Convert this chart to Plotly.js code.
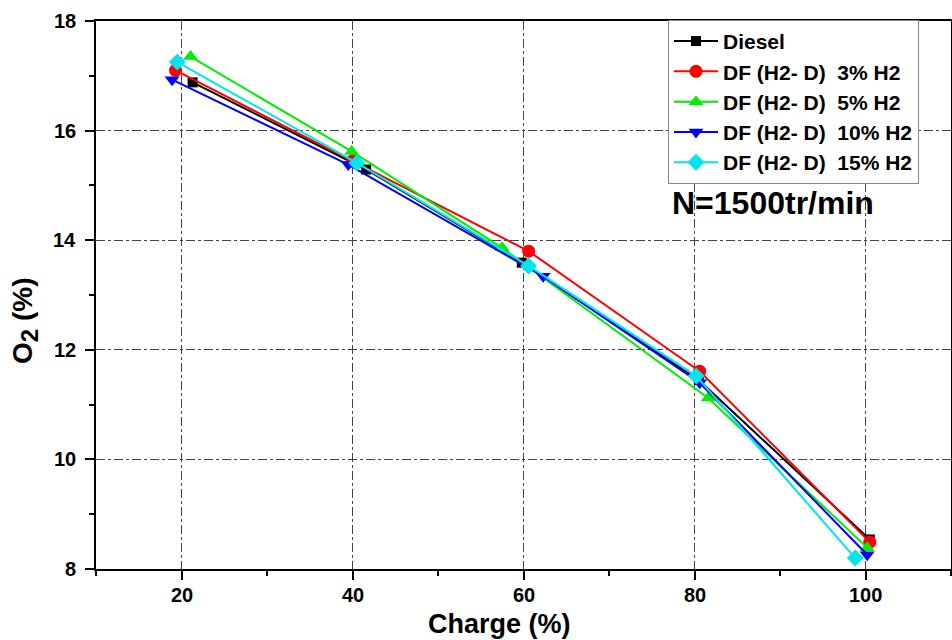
<!DOCTYPE html>
<html><head><meta charset="utf-8">
<script src="https://cdn.plot.ly/plotly-3.0.1.min.js"></script>
<style>html,body{margin:0;padding:0;background:#fff}#chart{width:952px;height:640px}</style>
</head><body><div id="chart"></div>
<script>
const seriesNames = ["Diesel", "DF (H2- D)\u00a0\u00a03% H2", "DF (H2- D)\u00a0\u00a05% H2", "DF (H2- D)\u00a0\u00a010% H2", "DF (H2- D)\u00a0\u00a015% H2"];
const dieselX = [21.3, 41.6, 59.8, 80.5, 100.5];
const dieselY = [16.88, 15.29, 13.59, 11.45, 8.54];
const h3X = [19.3, 40.0, 60.6, 80.6, 100.5];
const h3Y = [17.1, 15.45, 13.8, 11.61, 8.49];
const h5X = [21.05, 39.9, 57.5, 81.6, 100.2];
const h5Y = [17.35, 15.62, 13.86, 11.12, 8.39];
const h10X = [18.9, 39.5, 62.3, 80.6, 100.2];
const h10Y = [16.93, 15.38, 13.34, 11.4, 8.26];
const h15X = [19.5, 40.5, 60.6, 80.2, 98.8];
const h15Y = [17.25, 15.41, 13.53, 11.52, 8.2];
const xTicks = [20, 40, 60, 80, 100];
const yTicks = [8, 10, 12, 14, 16, 18];
const colors = ["#000000", "#ff0000", "#00ee00", "#0000ff", "#00e5ee"];
const symbols = ["square", "circle", "triangle-up", "triangle-down", "diamond"];
const xs = [dieselX, h3X, h5X, h10X, h15X];
const ys = [dieselY, h3Y, h5Y, h10Y, h15Y];

const FONT = 'Liberation Sans, Arial, sans-serif';

const traces = seriesNames.map((n, i) => ({
  x: xs[i], y: ys[i], name: '<b>' + n + '</b>', type: 'scatter', mode: 'lines+markers',
  line: {color: colors[i], width: 2},
  marker: {color: colors[i], symbol: symbols[i], size: i === 0 ? 10 : 13}
}));

function makeAxis(range, vals, minorDtick) {
  return {
    range: range, tickmode: 'array', tickvals: vals, showticklabels: false,
    showline: true, linecolor: '#000', linewidth: 2, mirror: true,
    ticks: 'outside', ticklen: 9, tickwidth: 2, tickcolor: '#000',
    showgrid: true, gridcolor: '#444', gridwidth: 1, griddash: 'dashdot',
    zeroline: false,
    minor: {dtick: minorDtick, tick0: 0, ticks: 'outside', ticklen: 5, tickwidth: 2, tickcolor: '#000', showgrid: false}
  };
}

const tickFont = {family: FONT, size: 20, color: '#000'};
const xTickLabels = xTicks.map(v => ({
  xref: 'x', yref: 'paper', x: v, y: -0.0474, xanchor: 'center', yanchor: 'middle',
  text: '<b>' + v + '</b>', showarrow: false, font: tickFont
}));
const yTickLabels = yTicks.map(v => ({
  xref: 'paper', yref: 'y', x: -0.021, y: v, xanchor: 'right', yanchor: 'middle',
  text: '<b>' + v + '</b>', showarrow: false, font: tickFont
}));

const layout = {
  width: 952, height: 640,
  margin: {l: 96, r: 1, t: 21, b: 71},
  paper_bgcolor: '#fff', plot_bgcolor: '#fff',
  font: {family: FONT, color: '#000'},
  showlegend: true,
  xaxis: makeAxis([10, 110], xTicks, 10),
  yaxis: makeAxis([8, 18], yTicks, 1),
  legend: {
    x: 0.669, y: 1.002, xanchor: 'left', yanchor: 'top',
    bgcolor: '#fff', bordercolor: '#888', borderwidth: 1,
    font: {family: FONT, size: 21, color: '#000'},
    itemwidth: 44, tracegroupgap: 0
  },
  annotations: [{
    xref: 'paper', yref: 'paper', x: 0.671, y: 0.668, xanchor: 'left', yanchor: 'middle',
    text: '<b>N=1500tr/min</b>', showarrow: false,
    font: {family: FONT, size: 32, color: '#000'}
  }, {
    xref: 'paper', yref: 'paper', x: 0.4725, y: -0.1, xanchor: 'center', yanchor: 'middle',
    text: '<b>Charge (%)</b>', showarrow: false,
    font: {family: FONT, size: 27, color: '#000'}
  }, {
    xref: 'paper', yref: 'paper', x: -0.083, y: 0.4526, xanchor: 'center', yanchor: 'middle',
    textangle: -90,
    text: '<b>O<sub><span style="font-size:24px">2</span></sub> (%)</b>', showarrow: false,
    font: {family: FONT, size: 28, color: '#000'}
  }].concat(xTickLabels, yTickLabels)
};

Plotly.newPlot('chart', traces, layout, {displayModeBar: false, staticPlot: true});
</script></body></html>
